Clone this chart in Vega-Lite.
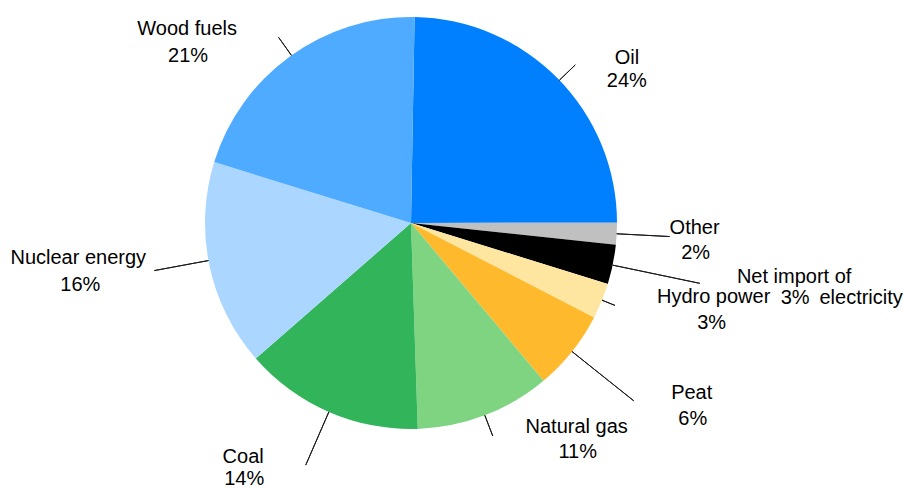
{
  "$schema": "https://vega.github.io/schema/vega-lite/v6.json",
  "width": 822,
  "height": 446,
  "autosize": {"type": "none"},
  "padding": {"left": 0, "top": 0, "right": 82, "bottom": 42},
  "background": "white",
  "config": {"view": {"stroke": null}, "text": {"font": "Liberation Sans", "fontSize": 20, "fill": "#000000", "align": "center", "baseline": "alphabetic"}, "arc": {"stroke": "#1a1a1a", "strokeWidth": 1}},
  "data": {"values": [
    {"rank": 1, "source": "Oil", "share": 24.7, "pct": "24%"},
    {"rank": 2, "source": "Other", "share": 1.7, "pct": "2%"},
    {"rank": 3, "source": "Net import of electricity", "share": 3.1, "pct": "3%"},
    {"rank": 4, "source": "Hydro power", "share": 2.8, "pct": "3%"},
    {"rank": 5, "source": "Peat", "share": 6.3, "pct": "6%"},
    {"rank": 6, "source": "Natural gas", "share": 10.6, "pct": "11%"},
    {"rank": 7, "source": "Coal", "share": 14.1, "pct": "14%"},
    {"rank": 8, "source": "Nuclear energy", "share": 16.2, "pct": "16%"},
    {"rank": 9, "source": "Wood fuels", "share": 20.5, "pct": "21%"}
  ]},
  "encoding": {
    "theta": {"field": "share", "type": "quantitative", "stack": true, "scale": {"range": [0.01745, 6.30064]}},
    "order": {"field": "rank", "type": "quantitative"}
  },
  "layer": [
    {"mark": {"type": "arc", "outerRadius": 206, "strokeWidth": 0},
     "encoding": {"color": {"field": "source", "type": "nominal", "legend": null,
       "scale": {"domain": ["Oil", "Other", "Net import of electricity", "Hydro power", "Peat", "Natural gas", "Coal", "Nuclear energy", "Wood fuels"],
                 "range": ["#0080FF", "#C0C0C0", "#000000", "#FFE6A0", "#FFB92D", "#7FD482", "#32B45A", "#ABD6FF", "#4FABFF"]}}}},
    {"transform": [{"stack": "share", "groupby": [], "sort": [{"field": "rank"}], "as": ["t0", "t1"]}, {"filter": "datum.rank === 1"}],
     "mark": {"type": "arc", "filled": false, "radius": 228, "radius2": 206, "thetaOffset": 0.7871, "theta2Offset": -0.7648},
     "encoding": {"theta": {"field": "t0", "type": "quantitative"}, "theta2": {"field": "t1"}}},
    {"transform": [{"stack": "share", "groupby": [], "sort": [{"field": "rank"}], "as": ["t0", "t1"]}, {"filter": "datum.rank === 2"}],
     "mark": {"type": "arc", "filled": false, "radius": 259, "radius2": 206, "thetaOffset": 0.0538, "theta2Offset": -0.0531},
     "encoding": {"theta": {"field": "t0", "type": "quantitative"}, "theta2": {"field": "t1"}}},
    {"transform": [{"stack": "share", "groupby": [], "sort": [{"field": "rank"}], "as": ["t0", "t1"]}, {"filter": "datum.rank === 3"}],
     "mark": {"type": "arc", "filled": false, "radius": 295, "radius2": 206, "thetaOffset": 0.1005, "theta2Offset": -0.0942},
     "encoding": {"theta": {"field": "t0", "type": "quantitative"}, "theta2": {"field": "t1"}}},
    {"transform": [{"stack": "share", "groupby": [], "sort": [{"field": "rank"}], "as": ["t0", "t1"]}, {"filter": "datum.rank === 4"}],
     "mark": {"type": "arc", "filled": false, "radius": 220, "radius2": 206, "thetaOffset": 0.0838, "theta2Offset": -0.0922},
     "encoding": {"theta": {"field": "t0", "type": "quantitative"}, "theta2": {"field": "t1"}}},
    {"transform": [{"stack": "share", "groupby": [], "sort": [{"field": "rank"}], "as": ["t0", "t1"]}, {"filter": "datum.rank === 5"}],
     "mark": {"type": "arc", "filled": false, "radius": 285, "radius2": 206, "thetaOffset": 0.1976, "theta2Offset": -0.1983},
     "encoding": {"theta": {"field": "t0", "type": "quantitative"}, "theta2": {"field": "t1"}}},
    {"transform": [{"stack": "share", "groupby": [], "sort": [{"field": "rank"}], "as": ["t0", "t1"]}, {"filter": "datum.rank === 6"}],
     "mark": {"type": "arc", "filled": false, "radius": 228, "radius2": 206, "thetaOffset": 0.3323, "theta2Offset": -0.3337},
     "encoding": {"theta": {"field": "t0", "type": "quantitative"}, "theta2": {"field": "t1"}}},
    {"transform": [{"stack": "share", "groupby": [], "sort": [{"field": "rank"}], "as": ["t0", "t1"]}, {"filter": "datum.rank === 7"}],
     "mark": {"type": "arc", "filled": false, "radius": 264, "radius2": 206, "thetaOffset": 0.4430, "theta2Offset": -0.4430},
     "encoding": {"theta": {"field": "t0", "type": "quantitative"}, "theta2": {"field": "t1"}}},
    {"transform": [{"stack": "share", "groupby": [], "sort": [{"field": "rank"}], "as": ["t0", "t1"]}, {"filter": "datum.rank === 8"}],
     "mark": {"type": "arc", "filled": false, "radius": 261, "radius2": 206, "thetaOffset": 0.5344, "theta2Offset": -0.4835},
     "encoding": {"theta": {"field": "t0", "type": "quantitative"}, "theta2": {"field": "t1"}}},
    {"transform": [{"stack": "share", "groupby": [], "sort": [{"field": "rank"}], "as": ["t0", "t1"]}, {"filter": "datum.rank === 9"}],
     "mark": {"type": "arc", "filled": false, "radius": 228, "radius2": 206, "thetaOffset": 0.6510, "theta2Offset": -0.6370},
     "encoding": {"theta": {"field": "t0", "type": "quantitative"}, "theta2": {"field": "t1"}}},
    {"mark": {"type": "text", "radius": 265, "dx": 27, "dy": 27}, "encoding": {"detail": {"field": "source"}, "text": {"condition": {"test": "datum.rank === 1", "field": "source"}, "value": ""}}},
    {"mark": {"type": "text", "radius": 265, "dx": 27, "dy": 50}, "encoding": {"detail": {"field": "source"}, "text": {"condition": {"test": "datum.rank === 1", "field": "pct"}, "value": ""}}},
    {"mark": {"type": "text", "radius": 284, "dx": 0, "dy": -4}, "encoding": {"detail": {"field": "source"}, "text": {"condition": {"test": "datum.rank === 2", "field": "source"}, "value": ""}}},
    {"mark": {"type": "text", "radius": 284, "dx": 1, "dy": 21}, "encoding": {"detail": {"field": "source"}, "text": {"condition": {"test": "datum.rank === 2", "field": "pct"}, "value": ""}}},
    {"mark": {"type": "text", "radius": 385, "dx": 6, "dy": -18, "limit": 123, "ellipsis": " "}, "encoding": {"detail": {"field": "source"}, "text": {"condition": {"test": "datum.rank === 3", "field": "source"}, "value": ""}}},
    {"mark": {"type": "text", "radius": 385, "dx": 73, "dy": 3, "limit": 92, "ellipsis": " ", "dir": "rtl"}, "encoding": {"detail": {"field": "source"}, "text": {"condition": {"test": "datum.rank === 3", "field": "source"}, "value": ""}}},
    {"mark": {"type": "text", "radius": 385, "dx": 7, "dy": 3}, "encoding": {"detail": {"field": "source"}, "text": {"condition": {"test": "datum.rank === 3", "field": "pct"}, "value": ""}}},
    {"mark": {"type": "text", "radius": 314, "dx": 12, "dy": -39}, "encoding": {"detail": {"field": "source"}, "text": {"condition": {"test": "datum.rank === 4", "field": "source"}, "value": ""}}},
    {"mark": {"type": "text", "radius": 314, "dx": 10, "dy": -13}, "encoding": {"detail": {"field": "source"}, "text": {"condition": {"test": "datum.rank === 4", "field": "pct"}, "value": ""}}},
    {"mark": {"type": "text", "radius": 335, "dx": 19, "dy": -33}, "encoding": {"detail": {"field": "source"}, "text": {"condition": {"test": "datum.rank === 5", "field": "source"}, "value": ""}}},
    {"mark": {"type": "text", "radius": 335, "dx": 20, "dy": -7}, "encoding": {"detail": {"field": "source"}, "text": {"condition": {"test": "datum.rank === 5", "field": "pct"}, "value": ""}}},
    {"mark": {"type": "text", "radius": 273, "dx": 68, "dy": -45}, "encoding": {"detail": {"field": "source"}, "text": {"condition": {"test": "datum.rank === 6", "field": "source"}, "value": ""}}},
    {"mark": {"type": "text", "radius": 273, "dx": 69, "dy": -20}, "encoding": {"detail": {"field": "source"}, "text": {"condition": {"test": "datum.rank === 6", "field": "pct"}, "value": ""}}},
    {"mark": {"type": "text", "radius": 298, "dx": -49, "dy": -33}, "encoding": {"detail": {"field": "source"}, "text": {"condition": {"test": "datum.rank === 7", "field": "source"}, "value": ""}}},
    {"mark": {"type": "text", "radius": 298, "dx": -48, "dy": -11}, "encoding": {"detail": {"field": "source"}, "text": {"condition": {"test": "datum.rank === 7", "field": "pct"}, "value": ""}}},
    {"mark": {"type": "text", "radius": 335, "dx": -5, "dy": -28}, "encoding": {"detail": {"field": "source"}, "text": {"condition": {"test": "datum.rank === 8", "field": "source"}, "value": ""}}},
    {"mark": {"type": "text", "radius": 335, "dx": -3, "dy": -1}, "encoding": {"detail": {"field": "source"}, "text": {"condition": {"test": "datum.rank === 8", "field": "pct"}, "value": ""}}},
    {"mark": {"type": "text", "radius": 288, "dx": -55, "dy": 45}, "encoding": {"detail": {"field": "source"}, "text": {"condition": {"test": "datum.rank === 9", "field": "source"}, "value": ""}}},
    {"mark": {"type": "text", "radius": 288, "dx": -54, "dy": 72}, "encoding": {"detail": {"field": "source"}, "text": {"condition": {"test": "datum.rank === 9", "field": "pct"}, "value": ""}}}
  ]
}
